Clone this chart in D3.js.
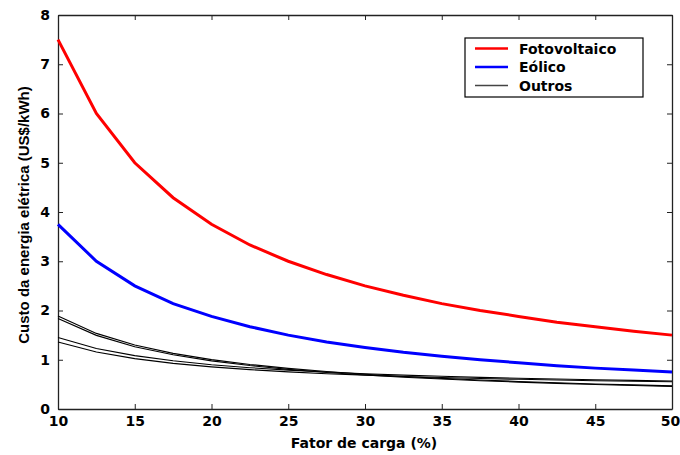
<!DOCTYPE html>
<html>
<head>
<meta charset="utf-8">
<script src="https://cdn.jsdelivr.net/npm/d3@7"></script>
<style>
    body { margin: 0; background: #fff; }
    text { font-family: "DejaVu Sans", sans-serif; font-weight: bold; fill: #000; }
</style>
</head>
<body>
<div id="chart"></div>
<script>
// fator de carga (%)
let loadFactor = [10, 12.5, 15, 17.5, 20, 22.5, 25, 27.5, 30, 32.5, 35, 37.5, 40, 42.5, 45, 47.5, 50];

let fotovoltaico = [7.5, 6.0, 5.0, 4.29, 3.75, 3.33, 3.0, 2.73, 2.5, 2.31, 2.14, 2.0, 1.88, 1.76, 1.67, 1.58, 1.5];
let eolico = [3.75, 3.0, 2.5, 2.14, 1.88, 1.67, 1.5, 1.36, 1.25, 1.15, 1.07, 1.0, 0.94, 0.88, 0.83, 0.79, 0.75];

// "Outros" is four thin curves
let outrosA = [1.89, 1.535, 1.298, 1.129, 1.003, 0.904, 0.825, 0.76, 0.707, 0.661, 0.622, 0.588, 0.559, 0.533, 0.509, 0.489, 0.47];
let outrosB = [1.84, 1.495, 1.265, 1.10, 0.978, 0.882, 0.805, 0.742, 0.69, 0.646, 0.608, 0.575, 0.546, 0.521, 0.498, 0.478, 0.46];
let outrosC = [1.45, 1.23, 1.083, 0.979, 0.90, 0.839, 0.79, 0.75, 0.717, 0.688, 0.664, 0.643, 0.625, 0.609, 0.594, 0.582, 0.57];
let outrosD = [1.36, 1.158, 1.023, 0.927, 0.855, 0.799, 0.754, 0.717, 0.687, 0.661, 0.639, 0.619, 0.603, 0.588, 0.574, 0.563, 0.552];

let xTicks = [10, 15, 20, 25, 30, 35, 40, 45, 50];
let yTicks = [0, 1, 2, 3, 4, 5, 6, 7, 8];

let legendNames = ["Fotovoltaico", "Eólico", "Outros"];
let legendColors = ["#ff0000", "#0000ff", "#444"];

let width = 680, height = 455;
let margin = {top: 15, right: 8, bottom: 46, left: 58};
let plotW = width - margin.left - margin.right;
let plotH = height - margin.top - margin.bottom;

let svg = d3.select("#chart").append("svg")
    .attr("width", width)
    .attr("height", height);

let g = svg.append("g")
    .attr("transform", "translate(" + margin.left + "," + margin.top + ")");

let x = d3.scaleLinear().domain([10, 50]).range([0, plotW]);
let y = d3.scaleLinear().domain([0, 8]).range([plotH, 0]);

// axes, matlab style: ticks inward on all four sides
let tickLen = 5;
let bottomAxis = d3.axisBottom(x).tickValues(xTicks).tickSizeInner(-tickLen).tickSizeOuter(0).tickPadding(9);
let leftAxis = d3.axisLeft(y).tickValues(yTicks).tickSizeInner(-tickLen).tickSizeOuter(0).tickPadding(8);
let topAxis = d3.axisTop(x).tickValues(xTicks).tickSizeInner(-tickLen).tickSizeOuter(0).tickFormat("");
let rightAxis = d3.axisRight(y).tickValues(yTicks).tickSizeInner(-tickLen).tickSizeOuter(0).tickFormat("");

let bx = g.append("g").attr("transform", "translate(0," + plotH + ")").call(bottomAxis);
let lx = g.append("g").call(leftAxis);
g.append("g").call(topAxis);
g.append("g").attr("transform", "translate(" + plotW + ",0)").call(rightAxis);

g.selectAll(".domain").attr("stroke", "#222").attr("stroke-width", 1.3);
g.selectAll(".tick line").attr("stroke", "#222");
bx.selectAll("text").style("font-size", "14px").style("font-family", "'DejaVu Sans', sans-serif").attr("dy", "0.6em");
lx.selectAll("text").style("font-size", "14px").style("font-family", "'DejaVu Sans', sans-serif");
bx.selectAll(".tick").filter(d => d === 50).select("text").attr("dx", "-0.15em");

let line = d3.line()
    .x((d, i) => x(loadFactor[i]))
    .y(d => y(d));

let curves = g.append("g");
[outrosA, outrosB, outrosC, outrosD].forEach(vals => {
    curves.append("path")
        .attr("d", line(vals))
        .attr("fill", "none")
        .attr("stroke", "#000")
        .attr("stroke-width", 1.1);
});

curves.append("path")
    .attr("d", line(eolico))
    .attr("fill", "none")
    .attr("stroke", "#0000ff")
    .attr("stroke-width", 3);

curves.append("path")
    .attr("d", line(fotovoltaico))
    .attr("fill", "none")
    .attr("stroke", "#ff0000")
    .attr("stroke-width", 3);

// axis titles
svg.append("text")
    .attr("x", 364)
    .attr("y", 448)
    .attr("text-anchor", "middle")
    .style("font-size", "14px")
    .text("Fator de carga (%)");

svg.append("text")
    .attr("transform", "translate(29,215) rotate(-90)")
    .attr("text-anchor", "middle")
    .style("font-family", "Arial, 'Liberation Sans', sans-serif")
    .style("font-size", "15px")
    .text("Custo da energia elétrica (US$/kWh)");

// legend
let legend = svg.append("g").attr("transform", "translate(465,38)");
legend.append("rect")
    .attr("width", 178)
    .attr("height", 59)
    .attr("fill", "#fff")
    .attr("stroke", "#000")
    .attr("stroke-width", 1.2);

legendNames.forEach((name, i) => {
    let rowY = 10.5 + i * 18.5;
    legend.append("line")
        .attr("x1", 10).attr("x2", 43)
        .attr("y1", rowY).attr("y2", rowY)
        .attr("stroke", legendColors[i])
        .attr("stroke-width", i < 2 ? 2.5 : 1.3);
    legend.append("text")
        .attr("x", 54)
        .attr("y", rowY)
        .attr("dy", "0.36em")
        .style("font-size", "14px")
        .text(name);
});
</script>
</body>
</html>
